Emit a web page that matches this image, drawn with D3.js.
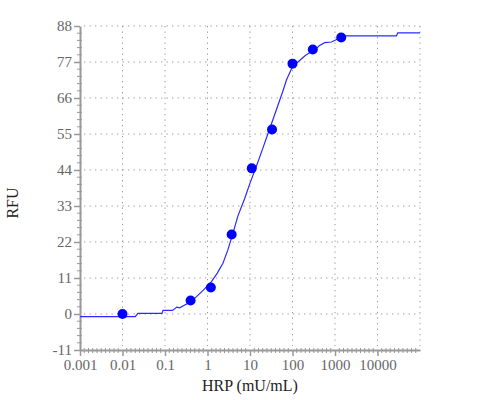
<!DOCTYPE html>
<html><head><meta charset="utf-8">
<script src="https://cdn.jsdelivr.net/npm/d3@7"></script>
<style>body{margin:0;background:#fff}svg{display:block}</style>
</head><body>
<svg id="c" width="500" height="400"></svg>
<script>
// Fitted curve
const curveX = [0.001, 0.02, 0.023, 0.085, 0.09, 0.15, 0.19, 0.222, 0.3, 0.4, 0.55, 0.8, 1.24, 1.7, 2.31, 3.0, 3.98, 5.2, 7.47, 10, 14, 20, 27.4, 38, 59, 72, 100, 145, 200, 280, 360, 425, 570, 830, 1150, 1500, 2200, 28000, 30000, 100000];
const curveY = [-0.8, -0.8, 0.2, 0.2, 1.1, 1.1, 2.1, 1.9, 2.8, 3.7, 5.3, 7.3, 9.9, 12.5, 15.5, 19.5, 24.7, 30, 35.2, 40, 45, 50.6, 55.7, 60.9, 68, 71.5, 75.6, 77.4, 79, 80.2, 81, 82, 82.9, 83.1, 84, 85, 85, 85, 85.9, 85.9];
// Measured points
const pointX = [0.01, 0.4, 1.2, 3.7, 11, 33, 100, 300, 1400];
const pointY = [0, 4.1, 8.1, 24.3, 44.5, 56.4, 76.5, 80.8, 84.5];
// Ticks
const xTicks = [0.001, 0.01, 0.1, 1, 10, 100, 1000, 10000];
const xTickLabels = ["0.001", "0.01", "0.1", "1", "10", "100", "1000", "10000"];
const xGrid = [0.01, 0.1, 1, 10, 100, 1000, 10000, 100000];
const yTicks = [-11, 0, 11, 22, 33, 44, 55, 66, 77, 88];
const yTickLabels = ["-11", "0", "11", "22", "33", "44", "55", "66", "77", "88"];
const xTitle = "HRP (mU/mL)";
const yTitle = "RFU";

const svg = d3.select("#c");
const L = 80, R = 420, T = 26, B = 350;
const x = d3.scaleLog().domain([0.001, 100000]).range([L, R]);
const y = d3.scaleLinear().domain([-11, 88]).range([B, T]);
const FONT = '"Liberation Serif"';

// grid
const g = svg.append("g");
g.selectAll("line.h").data(yTicks.filter(d => d > -11)).enter().append("line")
  .attr("x1", L + 4).attr("x2", R).attr("y1", d => y(d)).attr("y2", d => y(d))
  .attr("stroke", "#999").attr("stroke-width", 1).attr("stroke-dasharray", "1.3,4.2");
g.selectAll("line.v").data(xGrid).enter().append("line")
  .attr("y1", T).attr("y2", B - 4).attr("x1", d => x(d)).attr("x2", d => x(d))
  .attr("stroke", "#999").attr("stroke-width", 1).attr("stroke-dasharray", "1.3,4.2");

// minor ticks
const minorY = [];
for (let i = 0; i < yTicks.length - 1; i++) for (let k = 1; k < 5; k++) minorY.push(yTicks[i] + k * 2.2);
svg.append("g").selectAll("line").data(minorY).enter().append("line")
  .attr("x1", L - 3).attr("x2", L + 2).attr("y1", d => y(d)).attr("y2", d => y(d))
  .attr("stroke", "#999").attr("stroke-width", 1);
const minorXpx = [];
for (let e = -3; e < 5; e++) for (let k = 1; k < 10; k++) {
  const a = x(Math.pow(10, e)), b = x(Math.pow(10, e + 1));
  minorXpx.push(a + (b - a) * k / 10);
}
svg.append("g").selectAll("line").data(minorXpx).enter().append("line")
  .attr("x1", d => d).attr("x2", d => d).attr("y1", B - 2).attr("y2", B + 3)
  .attr("stroke", "#999").attr("stroke-width", 1);

// axes
const xAxis = d3.axisBottom(x).tickValues(xTicks).tickFormat((d, i) => xTickLabels[i]).tickSize(6).tickSizeOuter(0);
const yAxis = d3.axisLeft(y).tickValues(yTicks).tickFormat((d, i) => yTickLabels[i]).tickSize(6).tickSizeOuter(0);
const xa = svg.append("g").attr("transform", `translate(0,${B})`).call(xAxis);
const ya = svg.append("g").attr("transform", `translate(${L},0)`).call(yAxis);
[xa, ya].forEach(a => {
  a.attr("font-family", null).attr("font-size", null);
  a.select(".domain").attr("stroke", "#999").attr("stroke-width", 2);
  a.selectAll(".tick line").attr("stroke", "#999").attr("stroke-width", 1.5);
  a.selectAll(".tick text").attr("fill", "#666").style("font-family", FONT).style("font-size", "15px");
});
xa.selectAll(".tick text").attr("dy", "0.9em").attr("y", 6);
ya.selectAll(".tick text").attr("x", -8);

// curve
const pts = curveX.map((v, i) => [v, curveY[i]]);
svg.append("path").datum(pts)
  .attr("d", d3.line().x(d => x(d[0])).y(d => y(d[1])))
  .attr("fill", "none").attr("stroke", "#2a2aff").attr("stroke-width", 1.2);

// points
svg.append("g").selectAll("circle").data(pointX.map((v, i) => [v, pointY[i]])).enter().append("circle")
  .attr("cx", d => x(d[0])).attr("cy", d => y(d[1])).attr("r", 5).attr("fill", "#0000ff");

// titles
svg.append("text").attr("x", (L + R) / 2).attr("y", 391).attr("text-anchor", "middle")
  .attr("fill", "#222").style("font-family", FONT).style("font-size", "16px").text(xTitle);
svg.append("text").attr("transform", "translate(18,203) rotate(-90)").attr("text-anchor", "middle")
  .attr("fill", "#222").style("font-family", FONT).style("font-size", "16px").text(yTitle);
</script>
</body></html>
